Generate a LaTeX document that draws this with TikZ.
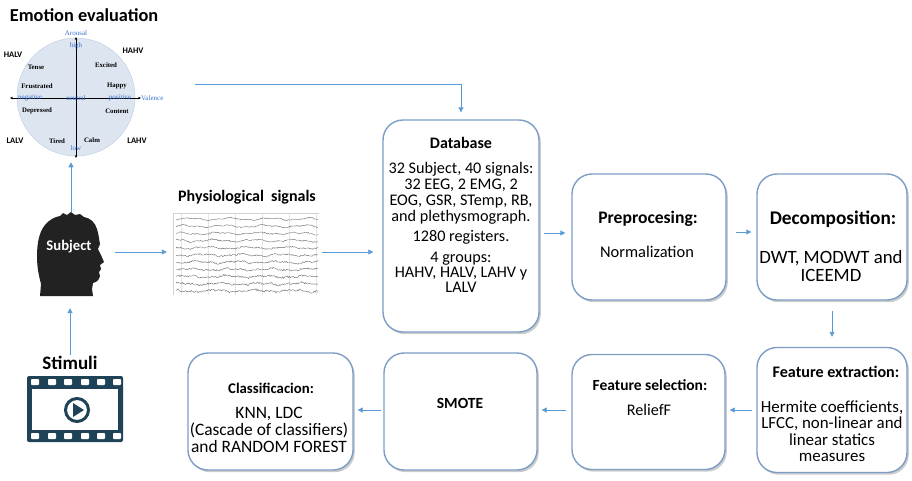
\documentclass[tikz,border=0pt]{standalone}
\usepackage{fontspec}
\setmainfont{Carlito}
\newfontfamily\wheelfont{Liberation Serif}
\usetikzlibrary{arrows.meta,shadows}

\definecolor{flowblue}{RGB}{91,155,213}
\definecolor{boxedge}{RGB}{125,157,198}
\definecolor{wheelfill}{RGB}{220,229,240}
\definecolor{wheeledge}{RGB}{195,208,226}
\definecolor{axislabel}{RGB}{55,110,205}
\definecolor{filmdark}{RGB}{31,66,86}
\definecolor{headdark}{RGB}{34,34,34}
\definecolor{tracegray}{RGB}{115,115,115}

\begin{document}
\begin{tikzpicture}[x=1pt,y=-1pt,
  stage/.style={draw=boxedge, line width=1.4pt, fill=white, rounded corners=20pt,
    drop shadow={opacity=0.4, shadow xshift=1.8pt, shadow yshift=-2.2pt}},
  flow/.style={draw=flowblue, line width=0.9pt, -{Triangle[length=5pt,width=5pt]}},
  ttl/.style={font=\fontsize{#1}{#1}\selectfont\bfseries, anchor=base, inner sep=0pt},
  ttl/.default=15.5,
  body/.style={font=\fontsize{#1}{#1}\selectfont, anchor=base, inner sep=0pt},
  body/.default=16.2,
  quad/.style={font=\fontsize{8.5}{9}\selectfont\bfseries, inner sep=0pt},
  mood/.style={font=\wheelfont\fontsize{6.8}{7}\selectfont\bfseries, inner sep=0pt},
  axlab/.style={font=\wheelfont\fontsize{7}{7}\selectfont, text=axislabel, inner sep=0pt},
  axis/.style={line width=0.6pt, {Stealth[length=3pt,width=2.6pt]}-{Stealth[length=3pt,width=2.6pt]}}
]
\useasboundingbox (0,0) rectangle (912,480);

% ---------- emotion wheel ----------
\node[font=\fontsize{18.3}{19}\selectfont\bfseries, inner sep=0pt] (evaltitle) at (84,15) {Emotion evaluation};
\node[circle, fill=wheelfill, draw=wheeledge, line width=0.5pt, minimum size=118pt, inner sep=0pt] (wheel) at (76,97) {};
\draw[axis] (76,37) -- (76,158);
\draw[axis] (10,98) -- (141,98);
\node[axlab] (arousal) at (76,33) {Arousal};
\node[axlab, anchor=west] (valence) at (141,98) {Valence};
\node[axlab] (high) at (76,46) {high};
\node[axlab] (low) at (76,148) {low};
\node[axlab] (negative) at (30,98) {negative};
\node[axlab] (neutral) at (76,98) {neutral};
\node[axlab] (positive) at (120,98) {positive};
\node[quad] (halv) at (13,55) {HALV};
\node[quad] (hahv) at (133,51) {HAHV};
\node[quad] (lalv) at (15,141) {LALV};
\node[quad] (lahv) at (137,141) {LAHV};
\node[mood] (tense) at (36,67) {Tense};
\node[mood] (excited) at (106,65) {Excited};
\node[mood] (frustrated) at (37,86) {Frustrated};
\node[mood] (happy) at (117,86) {Happy};
\node[mood] (depressed) at (37,111) {Depressed};
\node[mood] (content) at (117,111) {Content};
\node[mood] (tired) at (57,141) {Tired};
\node[mood] (calm) at (92,140) {Calm};
\coordinate (evalout) at (195,84);

% ---------- subject head ----------
\node[minimum width=77pt, minimum height=84pt, inner sep=0pt] (head) at (71,254) {};
\fill[headdark] (40,296) -- (41,284) .. controls (39,276) and (37,268) .. (37,256)
  .. controls (37,244) and (39,232) .. (45,225)
  .. controls (50,219) and (55,217) .. (60,216)
  -- (63,213) -- (67,215) -- (71,212) -- (75,215) -- (80,214) -- (84,217)
  .. controls (90,218) and (95,222) .. (97,229)
  .. controls (99,235) and (99,240) .. (100,244)
  -- (98,249) -- (101,255) -- (104,262) -- (100,265) -- (101,269) -- (99,272)
  -- (100,276) .. controls (99,280) and (97,282) .. (93,283)
  -- (92,289) -- (93,296) -- cycle;
\node[font=\fontsize{14.7}{15}\selectfont\bfseries, text=white, inner sep=0pt] (subjectlbl) at (69,247) {Subject};

% ---------- stimuli ----------
\node[font=\fontsize{19}{20}\selectfont\bfseries, inner sep=0pt] (stim) at (70,363) {Stimuli};
\node[minimum width=96pt, minimum height=66pt, inner sep=0pt] (film) at (75,409) {};
\fill[filmdark, rounded corners=2pt] (27,376) rectangle (123,442);
\fill[white] (32,389) rectangle (118,430);
\foreach \cx in {35,52,68,85,101,117} {
  \fill[white, rounded corners=0.8pt] (\cx-4,379) rectangle (\cx+4,385);
  \fill[white, rounded corners=0.8pt] (\cx-4,433) rectangle (\cx+4,439);
}
\draw[filmdark, line width=3pt] (77,410) circle (11.5);
\fill[filmdark] (73,403) -- (84,410) -- (73,417) -- cycle;

% ---------- physiological signals ----------
\node[font=\fontsize{16}{16}\selectfont\bfseries, inner sep=0pt] (sigtitle) at (247,197) {Physiological\hspace{0.45em}signals};
\node[minimum width=146pt, minimum height=82pt, inner sep=0pt] (sig) at (246,254) {};
\draw[gray!35, line width=0.4pt] (sig.south west) -- (sig.north west) -- (sig.north east);
\foreach \gx in {181,208,235,262,289,316}
  \draw[gray!20, line width=0.35pt] (\gx,214) -- (\gx,295);
\pgfmathsetseed{11}
\foreach \k in {0,...,10} {
  \pgfmathsetmacro\yy{219+\k*7.2}
  \pgfmathsetmacro\amp{0.45+\k*0.06}
  \draw[tracegray, line width=0.42pt] plot[domain=176:318, samples=150]
    (\x, {\yy + 0.9*sin(\x*9+\k*50) + 0.5*sin(\x*23+\k*17) + \amp*rand});
}

% ---------- processing stages ----------
\node[stage, minimum width=156pt, minimum height=212pt] (db) at (461,226) {};
\node[stage, minimum width=154pt, minimum height=126pt] (prep) at (649,237) {};
\node[stage, minimum width=150pt, minimum height=126pt] (dec) at (832,237) {};
\node[stage, minimum width=150pt, minimum height=125pt] (fe) at (832,410) {};
\node[stage, minimum width=153pt, minimum height=115pt] (fs) at (648.5,412) {};
\node[stage, minimum width=153pt, minimum height=117pt] (smote) at (460.5,411.5) {};
\node[stage, minimum width=165pt, minimum height=117pt] (cls) at (270.5,411.5) {};

% stage texts
\node[ttl=16] (dbt) at (461,148) {Database};
\node[body] (db1) at (461,173) {32 Subject, 40 signals:};
\node[body] (db2) at (461,189) {32 EEG, 2 EMG, 2};
\node[body] (db3) at (461,205) {EOG, GSR, STemp, RB,};
\node[body] (db4) at (461,221) {and plethysmograph.};
\node[body] (db5) at (461,241) {1280 registers.};
\node[body] (db6) at (461,262) {4 groups:};
\node[body] (db7) at (461,277) {HAHV, HALV, LAHV y};
\node[body] (db8) at (461,292) {LALV};

\node[ttl=17.6] (prept) at (648,223) {Preprocesing:};
\node[body=16.4] (prep1) at (647,257.5) {Normalization};

\node[ttl=19.3] (dect) at (833,224) {Decomposition:};
\node[body=18.8] (dec1) at (831,263) {DWT, MODWT and};
\node[body=18.8] (dec2) at (831,281) {ICEEMD};

\node[ttl=16.1] (fet) at (836,377) {Feature extraction:};
\node[body=16.9] (fe1) at (832,412) {Hermite coefficients,};
\node[body=16.9] (fe2) at (832,428.5) {LFCC, non-linear and};
\node[body=16.9] (fe3) at (832,445) {linear statics};
\node[body=16.9] (fe4) at (832,461.5) {measures};

\node[ttl] (fst) at (650,390) {Feature selection:};
\node[body] (fs1) at (649,415) {ReliefF};

\node[ttl] (smotet) at (460,408) {SMOTE};

\node[ttl=14.8] (clst) at (271,393) {Classificacion:};
\node[body=17.4] (cls1) at (269,418) {KNN, LDC};
\node[body=17.4] (cls2) at (269,435) {(Cascade of classifiers)};
\node[body=17.4] (cls3) at (269,452) {and RANDOM FOREST};

% ---------- connectors ----------
\draw[flow, shorten >=6pt] (head.north) -- (head.north |- wheel.south);
\draw[flow, shorten <=1pt, shorten >=12pt] (stim.north) -- (stim.north |- head.south);
\draw[flow, shorten <=5pt, shorten >=6pt] ([yshift=2pt]head.east) -- ([yshift=2pt]head.east -| sig.west);
\draw[flow, shorten <=3pt, shorten >=9pt] ([yshift=2pt]sig.east) -- ([yshift=2pt]sig.east -| db.west);
\draw[flow, shorten >=7pt] (evalout) -| (db.north);
\draw[flow, shorten <=4pt, shorten >=6pt] (db.east |- prep.west) ++(0,-4) coordinate (dbout) (dbout) -- (dbout -| prep.west);
\draw[flow, shorten <=9pt, shorten >=5pt] ([yshift=5pt]prep.east) -- ([yshift=5pt]dec.west);
\draw[flow, shorten <=10pt, shorten >=10pt] (dec.south) -- (fe.north);
\draw[flow, shorten <=4pt, shorten >=4pt] (fe.west) -- (fe.west -| fs.east);
\draw[flow, shorten <=5pt, shorten >=4pt] (fe.west -| fs.west) -- (fe.west -| smote.east);
\draw[flow, shorten <=2pt, shorten >=4pt] (fe.west -| smote.west) -- (fe.west -| cls.east);
\end{tikzpicture}
\end{document}
